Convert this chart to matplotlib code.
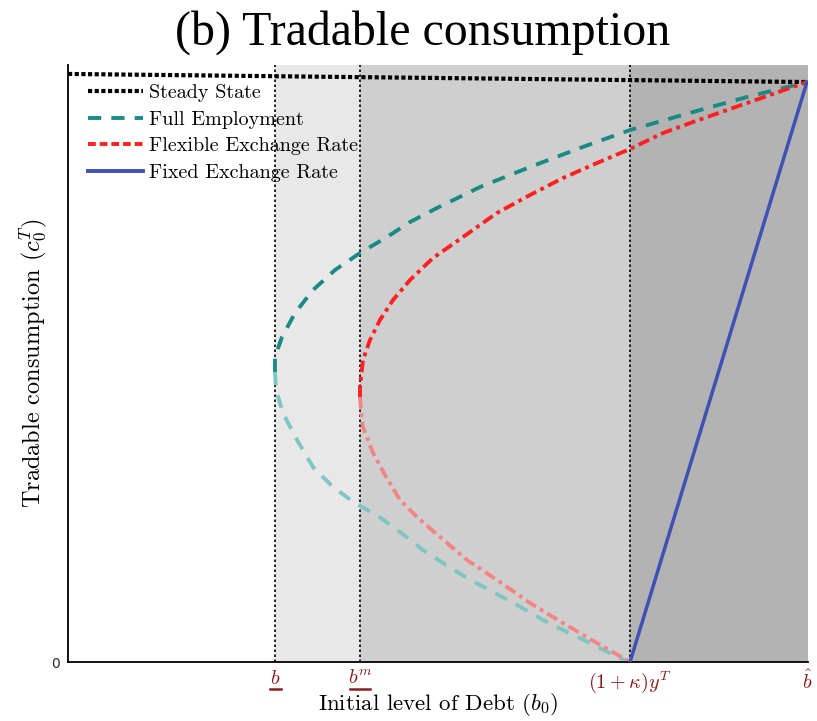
import matplotlib
matplotlib.use("Agg")
import matplotlib.pyplot as plt
import matplotlib.transforms as mtransforms
from matplotlib.lines import Line2D

plt.rcParams["mathtext.fontset"] = "cm"

# Key debt thresholds on the horizontal axis
b_under = 0.280
b_m = 0.395
b_kappa = 0.7595
b_hat = 0.9986

# Steady-state consumption line
ss_b = [0.0, b_hat]
ss_c = [0.985, 0.9715]

# Full employment: upper (solid-coloured) and lower (faded) branches
fe_up_b = [0.2797, 0.2797, 0.2892, 0.3068, 0.3311, 0.3608, 0.3946, 0.4311, 0.4622,
           0.4986, 0.5568, 0.6243, 0.6919, 0.7595, 0.8446, 0.9176, 0.9986]
fe_up_c = [0.4858, 0.5109, 0.5444, 0.5846, 0.6231, 0.6566, 0.6851, 0.7119, 0.7370,
           0.7605, 0.7956, 0.8291, 0.8610, 0.8911, 0.9213, 0.9464, 0.9715]
fe_lo_b = [0.2797, 0.2811, 0.2905, 0.3095, 0.3311, 0.3581, 0.3878, 0.4189, 0.4486,
           0.4797, 0.5068, 0.5392, 0.5743, 0.6068, 0.6419, 0.6743, 0.7054, 0.7419, 0.7595]
fe_lo_c = [0.4858, 0.4556, 0.4171, 0.3719, 0.3266, 0.2931, 0.2663, 0.2446, 0.2178,
           0.1876, 0.1658, 0.1407, 0.1173, 0.0955, 0.0704, 0.0503, 0.0318, 0.0084, 0.0]

# Flexible exchange rate: upper and lower branches
flex_up_b = [0.3946, 0.3946, 0.3986, 0.4081, 0.4216, 0.4392, 0.4622, 0.4932, 0.5338,
             0.5797, 0.6243, 0.6689, 0.7149, 0.7595, 0.8041, 0.8446, 0.9176, 0.9986]
flex_up_c = [0.4439, 0.4606, 0.5059, 0.5394, 0.5729, 0.6064, 0.6399, 0.6767, 0.7119,
             0.7521, 0.7822, 0.8107, 0.8358, 0.8593, 0.8861, 0.9045, 0.9363, 0.9715]
flex_lo_b = [0.3946, 0.3959, 0.3986, 0.4122, 0.4284, 0.4486, 0.4730, 0.5027, 0.5392,
             0.5797, 0.6243, 0.6689, 0.7149, 0.7595]
flex_lo_c = [0.4439, 0.4221, 0.3936, 0.3501, 0.3132, 0.2714, 0.2412, 0.2094, 0.1709,
             0.1374, 0.0988, 0.0653, 0.0318, 0.0]

# Fixed exchange rate
fix_b = [b_kappa, b_hat]
fix_c = [0.0, 0.9715]

tick_pos = [b_under, b_m, b_kappa, b_hat]
tick_labels = [r"$b$", r"$b^m$", r"$(1+\kappa)y^T$", r"$\hat{b}$"]

teal = "#1a8a84"
teal_light = "#7fc6c2"
red = "#ff2020"
red_light = "#f58585"
blue = "#3f51b5"
maroon = "#8b1a1a"

fig = plt.figure(figsize=(8.17, 7.21), dpi=100)
ax = fig.add_axes([68 / 817, 1 - 662 / 721, 740 / 817, 597 / 721])
ax.set_xlim(0, 1.0)
ax.set_ylim(0, 1.0)

# Shaded regimes
ax.axvspan(b_under, b_m, color="#e8e8e8", zorder=0, lw=0)
ax.axvspan(b_m, b_kappa, color="#cfcfcf", zorder=0, lw=0)
ax.axvspan(b_kappa, 1.0, color="#b3b3b3", zorder=0, lw=0)
for xv in [b_under, b_m, b_kappa]:
    ax.axvline(xv, color="black", ls=(0, (1.5, 1.5)), lw=1.2, zorder=1)

dash_fe = (0, (3.4, 2.6))
dash_flex = (0, (3, 1.2, 1, 1.2))
ax.plot(ss_b, ss_c, color="black", ls=(0, (1, 0.6)), lw=3, zorder=3)
ax.plot(fe_up_b, fe_up_c, color=teal, ls=dash_fe, lw=2.8, zorder=3)
ax.plot(fe_lo_b, fe_lo_c, color=teal_light, ls=dash_fe, lw=2.8, zorder=2)
ax.plot(flex_up_b, flex_up_c, color=red, ls=dash_flex, lw=2.8, zorder=3)
ax.plot(flex_lo_b, flex_lo_c, color=red_light, ls=dash_flex, lw=2.8, zorder=2)
ax.plot(fix_b, fix_c, color=blue, lw=2.5, zorder=4)

handles = [
    Line2D([], [], color="black", ls=(0, (1, 0.6)), lw=3),
    Line2D([], [], color=teal, ls=(0, (3.4, 2.6)), lw=2.8),
    Line2D([], [], color=red, ls=(0, (2, 1)), lw=2.8),
    Line2D([], [], color=blue, lw=2.8),
]
labels = ["Steady State", "Full Employment", "Flexible Exchange Rate", "Fixed Exchange Rate"]
leg = ax.legend(handles, labels, loc="upper left",
                bbox_to_anchor=(88 / 817, 1 - 84 / 721), bbox_transform=fig.transFigure,
                frameon=False, handlelength=2.75, handletextpad=0.3,
                labelspacing=0.42, borderpad=0.0, borderaxespad=0.0,
                prop={"family": "cmr10", "size": 14.5})

ax.set_xticks(tick_pos)
ax.set_xticklabels(tick_labels, color=maroon, fontsize=14.5)
ax.set_yticks([0])
ax.set_yticklabels(["0"], color="#2a2a3a", fontsize=10)
ax.tick_params(axis="both", length=0)
ax.tick_params(axis="x", pad=5)
ax.tick_params(axis="y", pad=6)

# Underlines beneath the lower-bound debt labels
ul = mtransforms.blended_transform_factory(ax.transData, fig.transFigure)
for xc, half in [(b_under, 0.0075), (b_m, 0.0135)]:
    ax.add_line(Line2D([xc - half, xc + half], [1 - 689 / 721] * 2, transform=ul,
                       color=maroon, lw=1.8, clip_on=False))

for s in ["top", "right"]:
    ax.spines[s].set_visible(False)
for s in ["left", "bottom"]:
    ax.spines[s].set_linewidth(1.3)

ax.set_xlabel(r"Initial level of Debt ($b_0$)", fontfamily="cmr10", fontsize=16.5)
ax.xaxis.set_label_coords(0.5, -(705 - 662) / 597)
ax.xaxis.label.set_va("center")
ax.set_ylabel(r"Tradable consumption ($c_0^T$)", fontfamily="cmr10", fontsize=17.5)
ax.yaxis.set_label_coords(-(68 - 33) / 740, 0.5)
ax.yaxis.label.set_va("center")

fig.text(423 / 817, 1 - 33 / 721, "(b) Tradable consumption", ha="center", va="center",
         fontfamily="Liberation Serif", fontsize=34.5)

fig.savefig("out.png", dpi=100)
